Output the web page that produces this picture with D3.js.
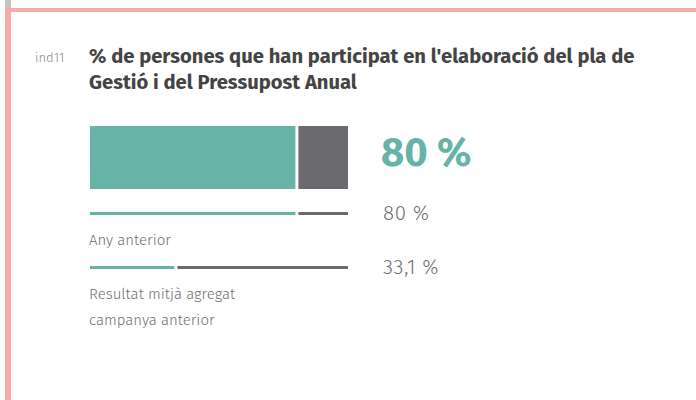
<!DOCTYPE html>
<html>
<head>
<meta charset="utf-8">
<script src="https://cdn.jsdelivr.net/npm/d3@7"></script>
<style>
  body { margin: 0; background: #fff; }
  svg { display: block; font-family: "Fira Sans", "Noto Sans", sans-serif; }
</style>
</head>
<body>
<div id="chart"></div>
<script>
"use strict";

const indicatorId = "ind11";
const titleLines = ["% de persones que han participat en l'elaboració del pla de", "Gestió i del Pressupost Anual"];
const rowLabels = ["Actual", "Any anterior", "Resultat mitjà agregat campanya anterior"];
const rowValues = [80, 80, 33.1];
const valueLabels = ["80 %", "80 %", "33,1 %"];

const width = 696, height = 400;
const teal = "#67b3a8", grey = "#6b6b6f";

const svg = d3.select("#chart").append("svg").attr("width", width).attr("height", height);

// frame
svg.append("rect").attr("x", 5).attr("y", 0).attr("width", 6).attr("height", 10).attr("fill", "#c4c4c4");
svg.append("rect").attr("x", 5).attr("y", 8).attr("width", width - 5).attr("height", 4).attr("fill", "#f6abab");
svg.append("rect").attr("x", 5).attr("y", 8).attr("width", 6).attr("height", height - 8).attr("fill", "#f6abab");

svg.append("text").attr("x", 35).attr("y", 62).attr("font-size", 13).attr("font-weight", 300)
  .attr("fill", "#888").text(indicatorId);

svg.append("g").selectAll("text").data(titleLines).join("text")
  .attr("x", 89).attr("y", (d, i) => 63 + i * 26)
  .attr("font-size", 20.2).attr("font-weight", 700).attr("fill", "#444")
  .text(d => d);

const x = d3.scaleLinear().domain([0, 100]).range([90, 348]);

// rows: main bar + two thin comparison lines
const rows = [
  { y: 126, h: 63 },
  { y: 212, h: 3 },
  { y: 266, h: 3 }
].map((r, i) => ({ ...r, value: rowValues[i], label: valueLabels[i] }));

const g = svg.append("g");
g.selectAll("rect.part1").data(rows).join("rect")
  .attr("x", x(0)).attr("y", d => d.y)
  .attr("width", d => x(d.value) - 1 - x(0)).attr("height", d => d.h)
  .attr("fill", teal);
g.selectAll("rect.part2").data(rows).join("rect").attr("class", "part2")
  .attr("x", d => x(d.value) + 2).attr("y", d => d.y)
  .attr("width", d => x(100) - x(d.value) - 2).attr("height", d => d.h)
  .attr("fill", grey);

// values on the right
svg.append("text").attr("x", 381).attr("y", 166)
  .attr("font-size", 40).attr("font-weight", 700).attr("fill", teal).text(valueLabels[0]);
svg.append("g").selectAll("text").data(valueLabels.slice(1)).join("text")
  .attr("x", 383).attr("y", (d, i) => 220 + i * 54)
  .attr("font-size", 20.5).attr("font-weight", 300).attr("letter-spacing", 0.6)
  .attr("fill", "#707070").text(d => d);

// labels under lines
svg.append("text").attr("x", 89).attr("y", 245).attr("font-size", 15).attr("font-weight", 300)
  .attr("fill", "#707070").text(rowLabels[1]);
svg.append("g").selectAll("text").data(["Resultat mitjà agregat", "campanya anterior"]).join("text")
  .attr("x", 89).attr("y", (d, i) => 299 + i * 26)
  .attr("font-size", 15).attr("font-weight", 300).attr("fill", "#707070").text(d => d);
</script>
</body>
</html>
